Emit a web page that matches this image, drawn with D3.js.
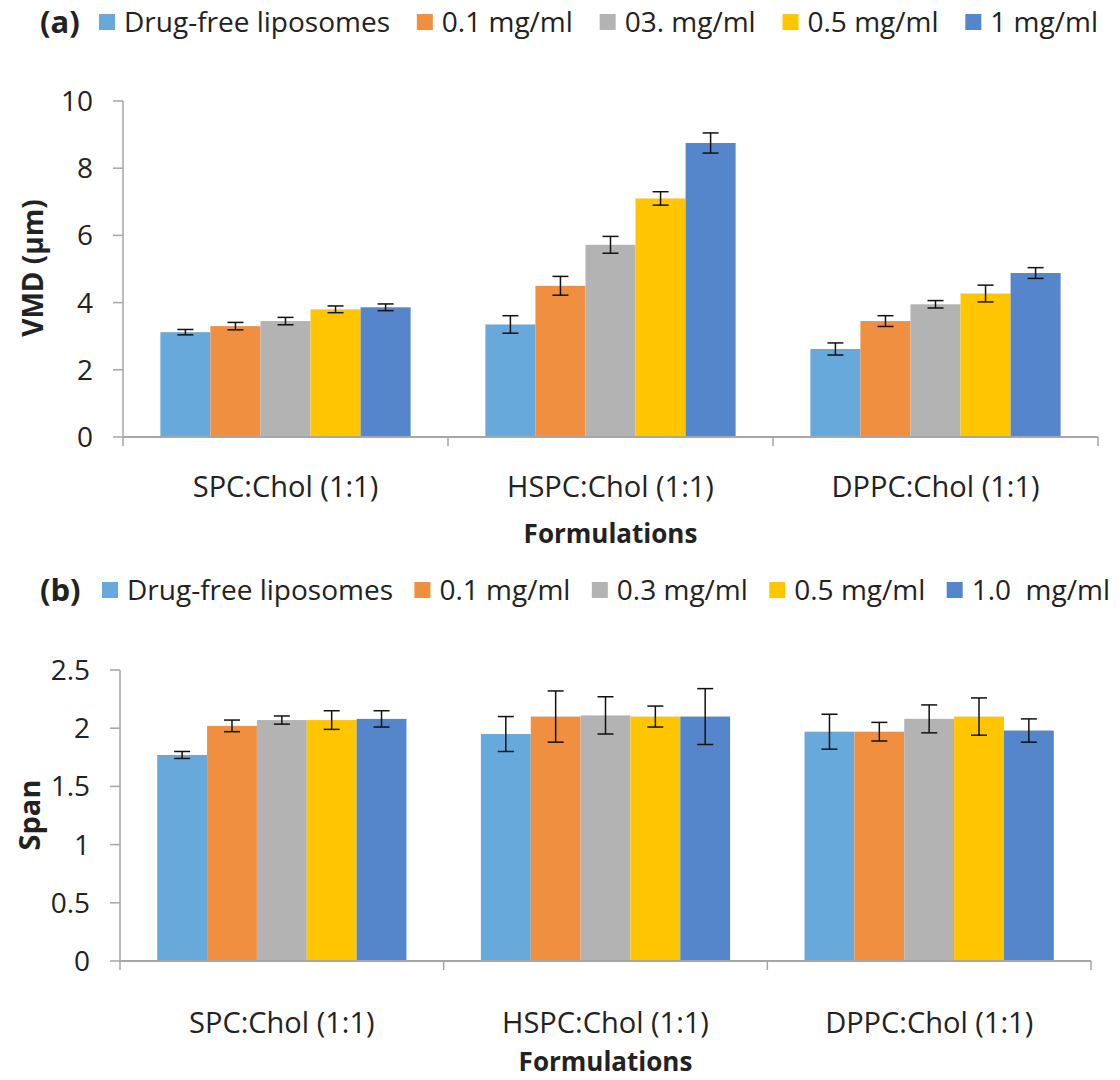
<!DOCTYPE html>
<html lang="en">
<head>
    <script src="https://d3js.org/d3.v7.min.js"></script>
    <style>
        body { margin: 0; background: white; }
        text { font-family: "Open Sans", sans-serif; fill: #222; }
        .bold { font-weight: bold; }
    </style>
</head>
<body>
    <svg id="chart" width="1120" height="1080"></svg>

    <script>
    // shared categories and colours
    const formulations = ["SPC:Chol (1:1)", "HSPC:Chol (1:1)", "DPPC:Chol (1:1)"];
    const colors = ["#68a9db", "#f08f3f", "#b3b3b3", "#ffc600", "#5586cc"];

    // panel (a): VMD
    const legendA = ["Drug-free liposomes", "0.1 mg/ml", "03. mg/ml", "0.5 mg/ml", "1 mg/ml"];
    const vmd = [
        [3.12, 3.30, 3.45, 3.80, 3.86],
        [3.35, 4.50, 5.72, 7.10, 8.75],
        [2.62, 3.45, 3.95, 4.27, 4.88]
    ];
    const vmdErr = [
        [0.08, 0.11, 0.11, 0.10, 0.10],
        [0.26, 0.28, 0.25, 0.20, 0.30],
        [0.18, 0.16, 0.11, 0.25, 0.16]
    ];
    const vmdTicks = [0, 2, 4, 6, 8, 10];

    // panel (b): Span
    const legendB = ["Drug-free liposomes", "0.1 mg/ml", "0.3 mg/ml", "0.5 mg/ml", "1.0  mg/ml"];
    const span = [
        [1.77, 2.02, 2.07, 2.07, 2.08],
        [1.95, 2.10, 2.11, 2.10, 2.10],
        [1.97, 1.97, 2.08, 2.10, 1.98]
    ];
    const spanErr = [
        [0.03, 0.05, 0.035, 0.08, 0.07],
        [0.15, 0.22, 0.16, 0.09, 0.24],
        [0.15, 0.08, 0.12, 0.16, 0.10]
    ];
    const spanTicks = [0, 0.5, 1, 1.5, 2, 2.5];

    const svg = d3.select("#chart");
    const axisColor = "#a6a6a6";

    function drawPanel(cfg) {
        const g = svg.append("g");

        const x = d3.scaleBand()
            .domain(formulations)
            .range([cfg.left, cfg.right])
            .paddingInner(0.23)
            .paddingOuter(0.115);
        const xs = d3.scaleBand()
            .domain(d3.range(5))
            .range([0, x.bandwidth()]);
        const y = d3.scaleLinear()
            .domain(cfg.domain)
            .range([cfg.bottom, cfg.top]);

        // y axis line + ticks
        g.append("line")
            .attr("x1", cfg.left).attr("x2", cfg.left)
            .attr("y1", cfg.top).attr("y2", cfg.bottom)
            .attr("stroke", axisColor).attr("stroke-width", 1.5);
        g.selectAll(".ytick").data(cfg.ticks).enter().append("line")
            .attr("x1", cfg.left - 10).attr("x2", cfg.left)
            .attr("y1", d => y(d)).attr("y2", d => y(d))
            .attr("stroke", axisColor).attr("stroke-width", 1.5);
        g.selectAll(".ylab").data(cfg.ticks).enter().append("text")
            .attr("x", cfg.left - 30)
            .attr("y", d => y(d) + 10)
            .attr("text-anchor", "end")
            .style("font-size", "28px")
            .text(d => d);

        // bars
        formulations.forEach(function(f, i) {
            const grp = g.append("g").attr("transform", `translate(${x(f)},0)`);
            cfg.values[i].forEach(function(v, j) {
                grp.append("rect")
                    .attr("x", xs(j))
                    .attr("y", y(v))
                    .attr("width", xs.bandwidth())
                    .attr("height", y(0) - y(v))
                    .attr("fill", colors[j]);
            });
            cfg.values[i].forEach(function(v, j) {
                const cx = xs(j) + xs.bandwidth() / 2;
                const e = cfg.errors[i][j];
                grp.append("line")
                    .attr("x1", cx).attr("x2", cx)
                    .attr("y1", y(v + e)).attr("y2", y(v - e))
                    .attr("stroke", "#111").attr("stroke-width", 1.5);
                [v + e, v - e].forEach(function(c) {
                    grp.append("line")
                        .attr("x1", cx - 8).attr("x2", cx + 8)
                        .attr("y1", y(c)).attr("y2", y(c))
                        .attr("stroke", "#111").attr("stroke-width", 1.5);
                });
            });
        });

        // x axis line, category ticks, labels
        g.append("line")
            .attr("x1", cfg.left).attr("x2", cfg.right)
            .attr("y1", cfg.bottom).attr("y2", cfg.bottom)
            .attr("stroke", axisColor).attr("stroke-width", 2);
        const step = x.step();
        g.selectAll(".xtick").data(d3.range(4)).enter().append("line")
            .attr("x1", d => cfg.left + d * step).attr("x2", d => cfg.left + d * step)
            .attr("y1", cfg.bottom).attr("y2", cfg.bottom + 9)
            .attr("stroke", axisColor).attr("stroke-width", 1.5);
        g.selectAll(".xlab").data(formulations).enter().append("text")
            .attr("x", d => x(d) + x.bandwidth() / 2)
            .attr("y", cfg.catY)
            .attr("text-anchor", "middle")
            .style("font-size", "29px")
            .text(d => d);

        g.append("text")
            .attr("class", "bold")
            .attr("x", (cfg.left + cfg.right) / 2)
            .attr("y", cfg.titleY)
            .attr("text-anchor", "middle")
            .style("font-size", "26px")
            .text("Formulations");

        g.append("text")
            .attr("class", "bold")
            .attr("transform", `translate(${cfg.ylabX},${cfg.ylabY}) rotate(-90)`)
            .attr("text-anchor", "middle")
            .style("font-size", cfg.ylabSize)
            .text(cfg.ylabel);

        // legend: tag, then square + label items spread to fill the row
        g.append("text")
            .attr("class", "bold")
            .attr("x", 40)
            .attr("y", cfg.legendY + 11)
            .style("font-size", "31px")
            .text(cfg.tag);

        const labels = cfg.legend.map(function(name) {
            return g.append("text")
                .attr("y", cfg.legendY + 10)
                .style("font-size", "28px")
                .attr("xml:space", "preserve")
                .text(name);
        });
        const widths = labels.map(t => t.node().getComputedTextLength());
        const box = 16, pad = 9;
        const used = d3.sum(widths) + cfg.legend.length * (box + pad);
        const gap = (cfg.legendEnd - cfg.legendStart - used) / (cfg.legend.length - 1);
        let cx = cfg.legendStart;
        cfg.legend.forEach(function(name, j) {
            g.append("rect")
                .attr("x", cx)
                .attr("y", cfg.legendY - 8)
                .attr("width", box).attr("height", box)
                .attr("fill", colors[j]);
            labels[j].attr("x", cx + box + pad);
            cx += box + pad + widths[j] + gap;
        });
    }

    drawPanel({
        tag: "(a)", legend: legendA, legendY: 22,
        legendStart: 99, legendEnd: 1098,
        values: vmd, errors: vmdErr, ticks: vmdTicks, domain: [0, 10],
        left: 123, right: 1098, top: 101, bottom: 437,
        catY: 497, titleY: 543,
        ylabel: "VMD (\u00b5m)", ylabX: 43, ylabY: 268, ylabSize: "28px"
    });

    drawPanel({
        tag: "(b)", legend: legendB, legendY: 590,
        legendStart: 102, legendEnd: 1110,
        values: span, errors: spanErr, ticks: spanTicks, domain: [0, 2.5],
        left: 120, right: 1091, top: 670, bottom: 961,
        catY: 1033, titleY: 1071,
        ylabel: "Span", ylabX: 40, ylabY: 815, ylabSize: "29px"
    });
    </script>
</body>
</html>
